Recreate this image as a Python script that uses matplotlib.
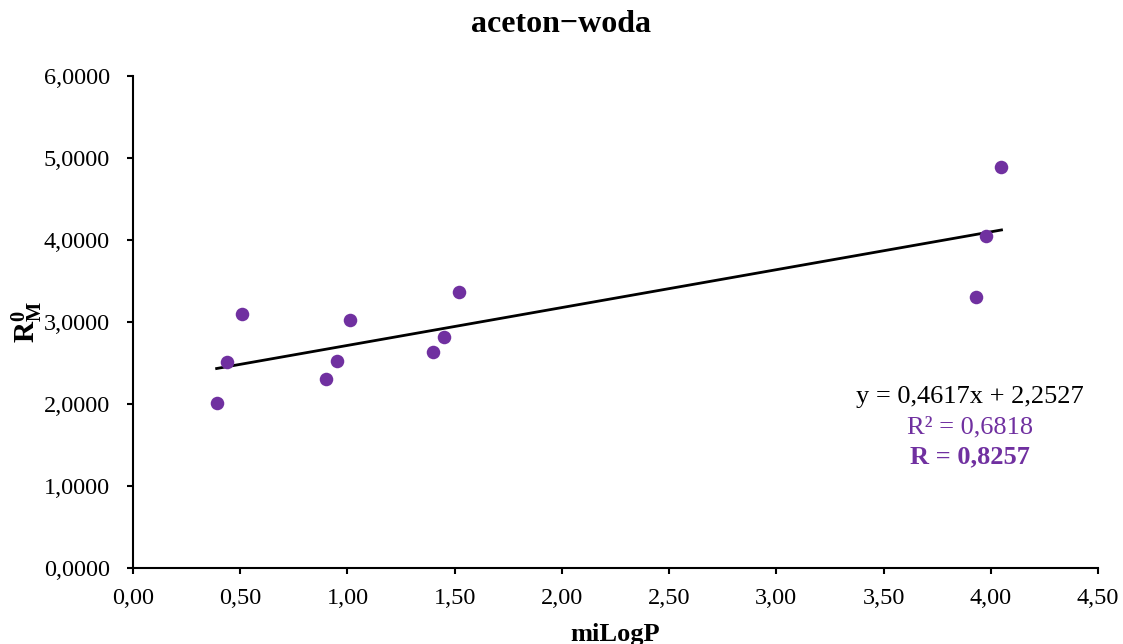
import matplotlib
matplotlib.use("Agg")
import matplotlib.pyplot as plt
import numpy as np
from matplotlib.ticker import FixedLocator, FuncFormatter

plt.rcParams['font.family'] = ['Liberation Serif', 'DejaVu Serif']
plt.rcParams['mathtext.fontset'] = 'custom'
plt.rcParams['mathtext.rm'] = 'Liberation Serif'
plt.rcParams['mathtext.bf'] = 'Liberation Serif:bold'
plt.rcParams['mathtext.it'] = 'Liberation Serif:italic'

# Data
milogp = [0.39, 0.44, 0.51, 0.90, 0.95, 1.01, 1.40, 1.45, 1.52, 3.93, 3.98, 4.05]
rm0 = [2.01, 2.51, 3.10, 2.31, 2.53, 3.03, 2.63, 2.82, 3.37, 3.31, 4.05, 4.89]
slope = 0.4617
intercept = 2.2527
r2_text = "0,6818"
r_text = "0,8257"
x_ticks = [0.0, 0.5, 1.0, 1.5, 2.0, 2.5, 3.0, 3.5, 4.0, 4.5]
y_ticks = [0, 1, 2, 3, 4, 5, 6]

purple = '#7030A0'

fig = plt.figure(figsize=(11.23, 6.44), dpi=100)
ax = fig.add_axes([133/1123, 76/644, (1098-133)/1123, (568-76)/644])

ax.scatter(milogp, rm0, s=95, color=purple, zorder=3, linewidths=0)
xl = np.array([min(milogp), max(milogp)])
ax.plot(xl, slope*xl + intercept, color='black', lw=2, zorder=2)

ax.set_xlim(0, 4.5)
ax.set_ylim(0, 6)
ax.xaxis.set_major_locator(FixedLocator(x_ticks))
ax.yaxis.set_major_locator(FixedLocator(y_ticks))
ax.xaxis.set_major_formatter(FuncFormatter(lambda v, p: f"{v:.2f}".replace('.', ',')))
ax.yaxis.set_major_formatter(FuncFormatter(lambda v, p: f"{v:.4f}".replace('.', ',')))

for s in ['top', 'right']:
    ax.spines[s].set_visible(False)
for s in ['left', 'bottom']:
    ax.spines[s].set_linewidth(1.5)
    ax.spines[s].set_color('black')
ax.tick_params(axis='both', direction='out', length=4.5, width=1.5, labelsize=17.5, colors='black')
ax.tick_params(axis='x', pad=10)
ax.tick_params(axis='y', pad=12)

fig.text(0.5, 1 - 25/644, 'aceton\u2212woda', ha='center', va='center',
         fontsize=23, fontweight='bold')
ax.set_xlabel('miLogP', fontsize=19, fontweight='bold', labelpad=10)
ax.set_ylabel(r'$\mathbf{R}_{\mathbf{M}}^{\mathbf{0}}$', fontsize=21, labelpad=-1)

tx = (970-133)/(1098-133)
ax.text(tx, (568-397)/(568-76),
        f"y = {slope:.4f}x + {intercept:.4f}".replace('.', ','),
        transform=ax.transAxes, ha='center', va='center', fontsize=19, color='black')
ax.text(tx, (568-427)/(568-76), f"R\u00b2 = {r2_text}",
        transform=ax.transAxes, ha='center', va='center', fontsize=19, color=purple)
ax.text(tx, (568-457)/(568-76), f"R = {r_text}",
        transform=ax.transAxes, ha='center', va='center', fontsize=19, color=purple, fontweight='bold')

fig.savefig('out.png', dpi=100)
